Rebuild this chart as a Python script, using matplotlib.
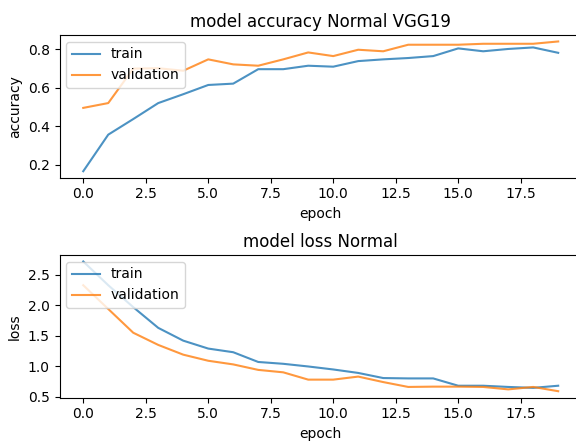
import matplotlib
matplotlib.use("Agg")
import matplotlib.pyplot as plt

epochs = list(range(20))

acc_train = [0.167, 0.357, 0.438, 0.521, 0.567, 0.615, 0.622, 0.697, 0.697, 0.715,
             0.710, 0.739, 0.748, 0.755, 0.765, 0.805, 0.790, 0.802, 0.810, 0.782]
acc_val = [0.496, 0.521, 0.700, 0.702, 0.689, 0.748, 0.722, 0.715, 0.748, 0.784,
           0.765, 0.798, 0.790, 0.824, 0.824, 0.824, 0.829, 0.829, 0.829, 0.841]

loss_train = [2.72, 2.33, 1.97, 1.63, 1.42, 1.29, 1.23, 1.07, 1.04, 0.996,
              0.947, 0.89, 0.806, 0.80, 0.80, 0.68, 0.68, 0.66, 0.645, 0.68]
loss_val = [2.33, 1.94, 1.55, 1.35, 1.19, 1.09, 1.03, 0.94, 0.90, 0.78,
            0.78, 0.83, 0.74, 0.66, 0.665, 0.665, 0.66, 0.62, 0.66, 0.59]

fig = plt.figure(figsize=(5.76, 4.41), dpi=100)

# axes run slightly past the right edge, like the cropped original
ax1 = fig.add_axes([0.1033, 0.597, 0.907, 0.3237])
ax1.plot(epochs, acc_train, label="train", alpha=0.8)
ax1.plot(epochs, acc_val, label="validation", alpha=0.8)
ax1.set_title("model accuracy Normal VGG19")
ax1.set_ylabel("accuracy")
ax1.set_xlabel("epoch")
ax1.legend(loc="upper left")

ax2 = fig.add_axes([0.1033, 0.0982, 0.907, 0.3236])
ax2.plot(epochs, loss_train, label="train", alpha=0.8)
ax2.plot(epochs, loss_val, label="validation", alpha=0.8)
ax2.set_title("model loss Normal")
ax2.set_ylabel("loss")
ax2.set_xlabel("epoch")
ax2.legend(loc="upper left")

fig.savefig("out.png", dpi=100)
